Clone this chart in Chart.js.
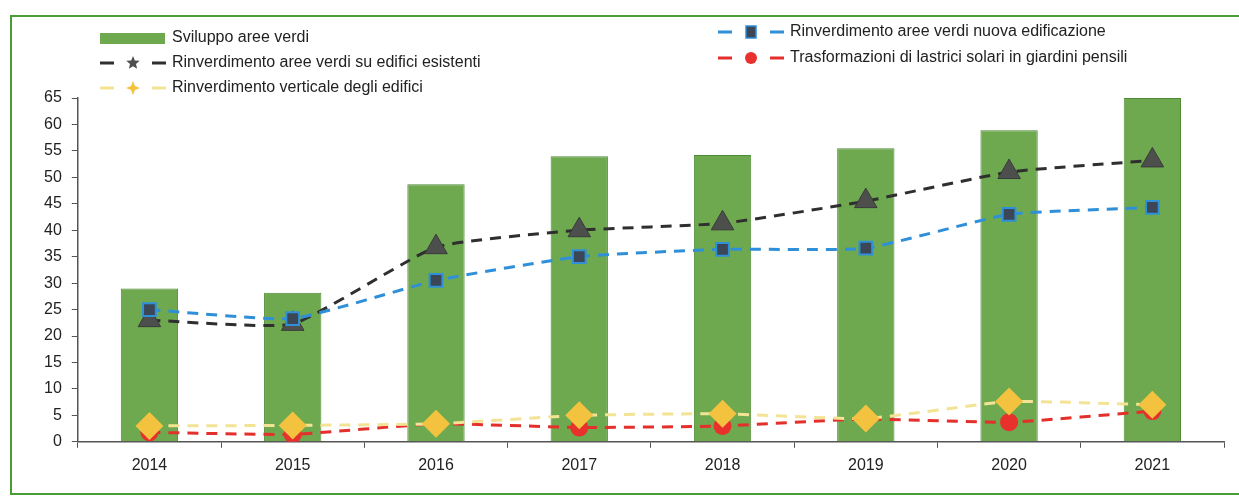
<!DOCTYPE html>
<html>
<head>
<meta charset="utf-8">
<script src="https://cdn.jsdelivr.net/npm/chart.js@4"></script>
<style>
    html, body { margin: 0; padding: 0; background: #fff; overflow: hidden; }
    #wrap { position: relative; width: 1239px; height: 499px; }
    #frame { position: absolute; left: 10px; top: 15px; width: 1240px; height: 476px; border: 2px solid #4a9d34; border-right: none; }
    canvas { position: absolute; left: 0; top: 0; }
</style>
</head>
<body>
<div id="wrap">
    <div id="frame"></div>
    <canvas id="greenChart" width="1239" height="499"></canvas>
</div>
<script>
const years = ['2014','2015','2016','2017','2018','2019','2020','2021'];
const svilupposAree = [29, 28.2, 48.7, 54, 54.2, 55.5, 58.9, 65];
const edificiEsistenti = [23, 22.3, 36.8, 40, 41.3, 45.5, 51, 53.2];
const nuovaEdificazione = [25, 23.3, 30.5, 35, 36.4, 36.6, 43, 44.3];
const verticale = [3, 3.1, 3.4, 5, 5.3, 4.4, 7.6, 7];
const lastrici = [1.8, 1.4, 3.4, 2.7, 3, 4.3, 3.7, 5.8];
const yTicks = [0, 5, 10, 15, 20, 25, 30, 35, 40, 45, 50, 55, 60, 65];

const FONT = 'Liberation Sans, Arial, sans-serif';

function drawStar(ctx, x, y, r, points, inner) {
    ctx.beginPath();
    for (let i = 0; i < points * 2; i++) {
        const rad = i % 2 === 0 ? r : r * inner;
        const a = -Math.PI / 2 + i * Math.PI / points;
        ctx.lineTo(x + rad * Math.cos(a), y + rad * Math.sin(a));
    }
    ctx.closePath();
    ctx.fill();
}

// legend in two columns like the original
const legendPlugin = {
    id: 'twoColLegend',
    afterDraw(chart) {
        const ctx = chart.ctx;
        const ds = chart.data.datasets;
        const items = [
            { i: 0, x: 100, y: 38 },
            { i: 1, x: 100, y: 63, mark: 'star' },
            { i: 3, x: 100, y: 88, mark: 'star4' },
            { i: 2, x: 718, y: 32, mark: 'square' },
            { i: 4, x: 718, y: 58, mark: 'circle' }
        ];
        ctx.save();
        items.forEach(it => {
            const d = ds[it.i];
            if (it.i === 0) {
                ctx.fillStyle = d.backgroundColor;
                ctx.fillRect(it.x, it.y - 5, 65, 11);
            } else {
                ctx.strokeStyle = d.borderColor;
                ctx.lineWidth = 3;
                ctx.beginPath();
                ctx.moveTo(it.x, it.y); ctx.lineTo(it.x + 14, it.y);
                ctx.moveTo(it.x + 52, it.y); ctx.lineTo(it.x + 66, it.y);
                ctx.stroke();
                const cx = it.x + 33;
                ctx.fillStyle = d.pointBackgroundColor;
                if (it.mark === 'star') drawStar(ctx, cx, it.y, 7, 5, 0.45);
                if (it.mark === 'star4') drawStar(ctx, cx, it.y, 7, 4, 0.4);
                if (it.mark === 'square') {
                    ctx.fillRect(cx - 5, it.y - 6, 10, 12);
                    ctx.strokeStyle = d.pointBorderColor; ctx.lineWidth = 1.5;
                    ctx.strokeRect(cx - 5, it.y - 6, 10, 12);
                }
                if (it.mark === 'circle') {
                    ctx.beginPath(); ctx.arc(cx, it.y, 6, 0, Math.PI * 2); ctx.fill();
                }
            }
            ctx.fillStyle = '#222';
            ctx.font = '16px ' + FONT;
            ctx.textBaseline = 'middle';
            ctx.fillText(d.label, it.x + 72, it.y);
        });
        ctx.restore();
    }
};

new Chart(document.getElementById('greenChart'), {
    type: 'bar',
    data: {
        labels: years,
        datasets: [{
            type: 'bar',
            label: 'Sviluppo aree verdi',
            data: svilupposAree,
            backgroundColor: '#6ea94f',
            borderColor: '#4f8a35',
            borderWidth: 1,
            barPercentage: 0.4,
            categoryPercentage: 1,
            order: 10
        }, {
            type: 'line',
            label: 'Rinverdimento aree verdi su edifici esistenti',
            data: edificiEsistenti,
            borderColor: '#2f2f2f',
            borderWidth: 3,
            borderDash: [11, 8],
            pointStyle: 'triangle',
            pointRadius: 13,
            pointBackgroundColor: '#4d4f4d',
            pointBorderColor: '#3a3a3a',
            pointBorderWidth: 1,
            tension: 0.15,
            order: 4
        }, {
            type: 'line',
            label: 'Rinverdimento aree verdi nuova edificazione',
            data: nuovaEdificazione,
            borderColor: '#2f8fd8',
            borderWidth: 3,
            borderDash: [11, 8],
            pointStyle: 'rect',
            pointRadius: 9,
            pointBackgroundColor: '#3b4657',
            pointBorderColor: '#2f8fd8',
            pointBorderWidth: 2,
            tension: 0.15,
            order: 3
        }, {
            type: 'line',
            label: 'Rinverdimento verticale degli edifici',
            data: verticale,
            borderColor: '#f3e394',
            borderWidth: 3,
            borderDash: [11, 8],
            pointStyle: 'rectRot',
            pointRadius: 14,
            pointBackgroundColor: '#f3c33f',
            pointBorderColor: '#f3c33f',
            pointBorderWidth: 0,
            tension: 0.15,
            order: 1
        }, {
            type: 'line',
            label: 'Trasformazioni di lastrici solari in giardini pensili',
            data: lastrici,
            borderColor: '#e3302c',
            borderWidth: 3,
            borderDash: [11, 8],
            pointStyle: 'circle',
            pointRadius: 9,
            pointBackgroundColor: '#e8302c',
            pointBorderColor: '#e8302c',
            pointBorderWidth: 0,
            tension: 0.15,
            order: 2
        }]
    },
    options: {
        responsive: false,
        animation: false,
        layout: { padding: { top: 98, left: 34, right: 15, bottom: 16 } },
        plugins: {
            legend: { display: false },
            tooltip: { enabled: false }
        },
        scales: {
            x: {
                offset: true,
                grid: { display: true, drawOnChartArea: false, offset: true, tickLength: 6, color: '#555' },
                border: { color: '#555', width: 1.5 },
                ticks: { color: '#222', font: { size: 16, family: FONT }, padding: 8 }
            },
            y: {
                min: 0,
                max: 65,
                afterBuildTicks(axis) { axis.ticks = yTicks.map(v => ({ value: v })); },
                grid: { display: true, drawOnChartArea: false, tickLength: 6, color: '#555' },
                border: { color: '#555', width: 1.5 },
                ticks: { color: '#222', font: { size: 16, family: FONT }, padding: 10 }
            }
        }
    },
    plugins: [legendPlugin]
});
</script>
</body>
</html>
